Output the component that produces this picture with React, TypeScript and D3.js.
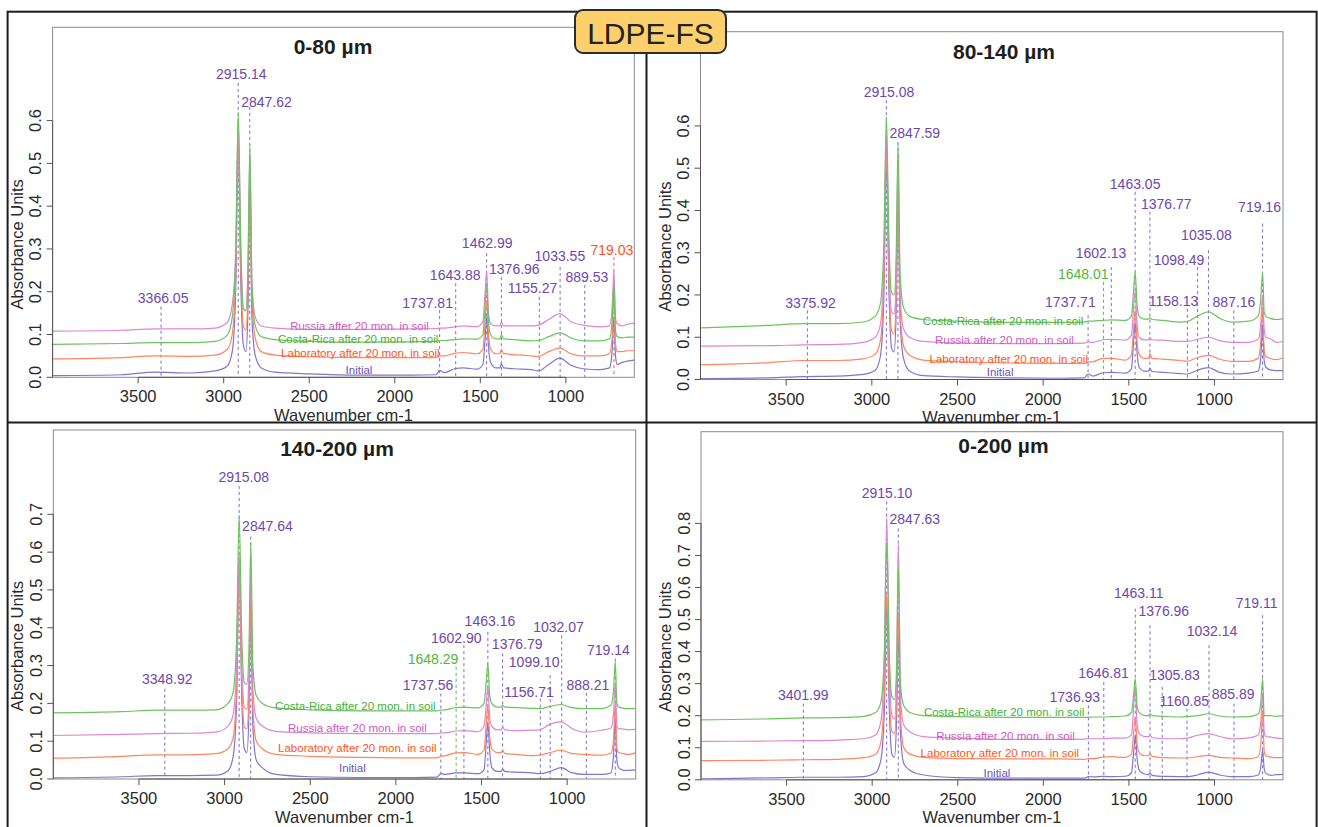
import React from 'react';
import * as d3 from 'd3';

// ---------- DATA ----------
const WAVENUMBERS = [
  4000, 3600, 3400, 3200, 3050, 2980, 2950, 2930, 2915, 2900,
  2885, 2870, 2858, 2847, 2835, 2815, 2780, 2700, 2500, 2200,
  1900, 1760, 1737, 1710, 1650, 1600, 1520, 1485, 1472, 1463,
  1452, 1440, 1410, 1385, 1377, 1365, 1300, 1200, 1160, 1100,
  1035, 970, 900, 800, 745, 730, 719, 710, 700, 670,
  640, 600,
];
const X_TICKS = [3500, 3000, 2500, 2000, 1500, 1000];
const SERIES_NAMES = {
  initial: 'Initial',
  lab: 'Laboratory after 20 mon. in soil',
  costa: 'Costa-Rica after 20 mon. in soil',
  russia: 'Russia after 20 mon. in soil',
};
const PANEL_TITLES = ['0-80 µm', '80-140 µm', '140-200 µm', '0-200 µm'];
const Y_TICKS = [
  [0, 0.1, 0.2, 0.3, 0.4, 0.5, 0.6],
  [0, 0.1, 0.2, 0.3, 0.4, 0.5, 0.6],
  [0, 0.1, 0.2, 0.3, 0.4, 0.5, 0.6, 0.7],
  [0, 0.1, 0.2, 0.3, 0.4, 0.5, 0.6, 0.7, 0.8],
];
const Y_MAX = [0.818, 0.823, 0.923, 1.086];

// Panel 1: 0-80 µm
const P1_INITIAL = [
  0.004, 0.006, 0.012, 0.010, 0.015, 0.026, 0.06, 0.2, 0.56, 0.22,
  0.075, 0.06, 0.16, 0.46, 0.14, 0.05, 0.022, 0.012, 0.008, 0.005,
  0.005, 0.006, 0.016, 0.011, 0.02, 0.022, 0.019, 0.03, 0.09, 0.142,
  0.07, 0.035, 0.022, 0.022, 0.032, 0.022, 0.02, 0.018, 0.015, 0.03,
  0.045, 0.028, 0.02, 0.018, 0.022, 0.06, 0.14, 0.05, 0.03, 0.035,
  0.038, 0.04,
];
const P1_LAB = [
  0.043, 0.046, 0.05, 0.049, 0.052, 0.065, 0.1, 0.24, 0.57, 0.25,
  0.12, 0.11, 0.21, 0.49, 0.18, 0.09, 0.06, 0.052, 0.048, 0.046,
  0.046, 0.046, 0.05, 0.05, 0.056, 0.058, 0.055, 0.066, 0.13, 0.18,
  0.1, 0.066, 0.055, 0.055, 0.065, 0.056, 0.053, 0.05, 0.049, 0.06,
  0.068, 0.055, 0.05, 0.05, 0.055, 0.09, 0.2, 0.08, 0.06, 0.06,
  0.062, 0.062,
];
const P1_COSTA = [
  0.077, 0.079, 0.081, 0.081, 0.084, 0.098, 0.14, 0.28, 0.62, 0.3,
  0.16, 0.155, 0.25, 0.545, 0.22, 0.12, 0.095, 0.088, 0.084, 0.082,
  0.083, 0.084, 0.086, 0.086, 0.088, 0.09, 0.089, 0.1, 0.17, 0.212,
  0.13, 0.1, 0.09, 0.09, 0.1, 0.09, 0.088, 0.085, 0.086, 0.095,
  0.104, 0.092, 0.085, 0.085, 0.09, 0.13, 0.22, 0.11, 0.095, 0.092,
  0.094, 0.094,
];
const P1_RUSSIA = [
  0.108, 0.11, 0.113, 0.113, 0.115, 0.128, 0.17, 0.29, 0.6, 0.3,
  0.16, 0.157, 0.26, 0.52, 0.22, 0.14, 0.12, 0.115, 0.112, 0.112,
  0.113, 0.114, 0.115, 0.115, 0.118, 0.12, 0.118, 0.13, 0.2, 0.25,
  0.15, 0.125, 0.12, 0.12, 0.13, 0.12, 0.12, 0.12, 0.122, 0.135,
  0.149, 0.13, 0.122, 0.118, 0.12, 0.16, 0.25, 0.14, 0.125, 0.12,
  0.124, 0.126,
];

// Panel 2: 80-140 µm
const P2_INITIAL = [
  0.002, 0.004, 0.007, 0.008, 0.012, 0.022, 0.055, 0.19, 0.52, 0.21,
  0.075, 0.065, 0.16, 0.44, 0.14, 0.05, 0.02, 0.009, 0.006, 0.004,
  0.003, 0.004, 0.013, 0.008, 0.016, 0.017, 0.015, 0.025, 0.09, 0.136,
  0.065, 0.029, 0.02, 0.02, 0.027, 0.019, 0.017, 0.014, 0.013, 0.022,
  0.028, 0.017, 0.013, 0.015, 0.02, 0.05, 0.13, 0.045, 0.029, 0.022,
  0.021, 0.021,
];
const P2_LAB = [
  0.035, 0.04, 0.045, 0.045, 0.049, 0.06, 0.092, 0.23, 0.55, 0.24,
  0.115, 0.108, 0.2, 0.47, 0.17, 0.08, 0.058, 0.046, 0.042, 0.039,
  0.038, 0.038, 0.041, 0.042, 0.05, 0.05, 0.046, 0.058, 0.12, 0.165,
  0.09, 0.06, 0.05, 0.05, 0.061, 0.05, 0.048, 0.045, 0.043, 0.052,
  0.057, 0.048, 0.043, 0.043, 0.05, 0.09, 0.167, 0.07, 0.055, 0.049,
  0.047, 0.051,
];
const P2_COSTA = [
  0.122, 0.128, 0.132, 0.132, 0.136, 0.15, 0.18, 0.32, 0.622, 0.33,
  0.205, 0.2, 0.29, 0.558, 0.25, 0.17, 0.15, 0.142, 0.138, 0.135,
  0.135, 0.136, 0.138, 0.138, 0.14, 0.141, 0.14, 0.15, 0.21, 0.254,
  0.18, 0.15, 0.143, 0.143, 0.146, 0.142, 0.14, 0.136, 0.137, 0.15,
  0.16, 0.145, 0.136, 0.138, 0.15, 0.19, 0.254, 0.16, 0.15, 0.144,
  0.142, 0.144,
];
const P2_RUSSIA = [
  0.079, 0.08, 0.082, 0.083, 0.088, 0.1, 0.13, 0.27, 0.58, 0.28,
  0.16, 0.155, 0.24, 0.52, 0.2, 0.12, 0.1, 0.09, 0.086, 0.085,
  0.085, 0.086, 0.089, 0.088, 0.094, 0.095, 0.093, 0.105, 0.17, 0.21,
  0.13, 0.1, 0.094, 0.094, 0.1, 0.094, 0.093, 0.09, 0.09, 0.095,
  0.1, 0.092, 0.088, 0.088, 0.095, 0.13, 0.2, 0.12, 0.1, 0.096,
  0.088, 0.09,
];

// Panel 3: 140-200 µm
const P3_INITIAL = [
  0.003, 0.006, 0.009, 0.009, 0.01, 0.022, 0.06, 0.2, 0.57, 0.22,
  0.08, 0.07, 0.17, 0.46, 0.14, 0.05, 0.03, 0.012, 0.006, 0.004,
  0.004, 0.005, 0.014, 0.012, 0.016, 0.016, 0.014, 0.025, 0.1, 0.15,
  0.07, 0.03, 0.02, 0.02, 0.027, 0.02, 0.018, 0.016, 0.014, 0.02,
  0.03, 0.016, 0.012, 0.012, 0.016, 0.06, 0.16, 0.05, 0.03, 0.023,
  0.023, 0.024,
];
const P3_LAB = [
  0.055, 0.06, 0.064, 0.064, 0.067, 0.08, 0.11, 0.25, 0.55, 0.26,
  0.138, 0.133, 0.22, 0.48, 0.19, 0.1, 0.08, 0.065, 0.06, 0.057,
  0.056, 0.056, 0.06, 0.062, 0.069, 0.07, 0.065, 0.078, 0.15, 0.195,
  0.11, 0.08, 0.07, 0.07, 0.076, 0.068, 0.065, 0.062, 0.063, 0.07,
  0.076, 0.067, 0.065, 0.063, 0.068, 0.1, 0.2, 0.08, 0.07, 0.067,
  0.065, 0.069,
];
const P3_COSTA = [
  0.175, 0.178, 0.182, 0.182, 0.183, 0.2, 0.23, 0.37, 0.698, 0.38,
  0.255, 0.25, 0.34, 0.628, 0.3, 0.22, 0.2, 0.188, 0.183, 0.18,
  0.18, 0.18, 0.182, 0.183, 0.189, 0.19, 0.188, 0.2, 0.26, 0.305,
  0.22, 0.2, 0.19, 0.19, 0.195, 0.19, 0.189, 0.187, 0.186, 0.192,
  0.197, 0.188, 0.186, 0.186, 0.195, 0.23, 0.31, 0.2, 0.19, 0.187,
  0.186, 0.186,
];
const P3_RUSSIA = [
  0.115, 0.118, 0.12, 0.121, 0.124, 0.14, 0.17, 0.3, 0.6, 0.31,
  0.19, 0.185, 0.27, 0.55, 0.24, 0.16, 0.14, 0.126, 0.122, 0.12,
  0.12, 0.12, 0.122, 0.122, 0.127, 0.128, 0.125, 0.14, 0.2, 0.248,
  0.16, 0.14, 0.13, 0.13, 0.138, 0.13, 0.128, 0.129, 0.13, 0.145,
  0.151, 0.133, 0.124, 0.129, 0.135, 0.17, 0.252, 0.14, 0.133, 0.132,
  0.13, 0.131,
];

// Panel 4: 0-200 µm
const P4_INITIAL = [
  0.003, 0.006, 0.008, 0.008, 0.01, 0.022, 0.06, 0.2, 0.55, 0.22,
  0.08, 0.07, 0.18, 0.477, 0.15, 0.05, 0.03, 0.015, 0.007, 0.005,
  0.005, 0.005, 0.01, 0.009, 0.0104, 0.01, 0.011, 0.022, 0.09, 0.139,
  0.065, 0.03, 0.018, 0.016, 0.021, 0.014, 0.0104, 0.01, 0.01, 0.015,
  0.024, 0.015, 0.01, 0.01, 0.015, 0.04, 0.092, 0.035, 0.02, 0.014,
  0.016, 0.017,
];
const P4_LAB = [
  0.06, 0.061, 0.0625, 0.064, 0.069, 0.08, 0.115, 0.26, 0.58, 0.27,
  0.15, 0.145, 0.24, 0.513, 0.2, 0.1, 0.08, 0.07, 0.066, 0.065,
  0.065, 0.064, 0.066, 0.066, 0.071, 0.072, 0.07, 0.08, 0.15, 0.196,
  0.11, 0.085, 0.075, 0.075, 0.081, 0.073, 0.069, 0.068, 0.068, 0.072,
  0.076, 0.07, 0.068, 0.066, 0.072, 0.11, 0.217, 0.09, 0.075, 0.071,
  0.069, 0.069,
];
const P4_COSTA = [
  0.187, 0.19, 0.193, 0.194, 0.198, 0.21, 0.24, 0.38, 0.74, 0.39,
  0.26, 0.25, 0.34, 0.665, 0.3, 0.23, 0.21, 0.2, 0.197, 0.195,
  0.195, 0.195, 0.195, 0.196, 0.196, 0.197, 0.199, 0.21, 0.27, 0.316,
  0.23, 0.21, 0.2, 0.2, 0.206, 0.2, 0.198, 0.196, 0.197, 0.2,
  0.206, 0.199, 0.196, 0.197, 0.205, 0.24, 0.316, 0.2, 0.2, 0.2,
  0.198, 0.2,
];
const P4_RUSSIA = [
  0.12, 0.121, 0.122, 0.124, 0.128, 0.14, 0.18, 0.35, 0.82, 0.36,
  0.2, 0.19, 0.3, 0.737, 0.26, 0.17, 0.15, 0.135, 0.13, 0.126,
  0.126, 0.127, 0.128, 0.128, 0.128, 0.13, 0.13, 0.14, 0.23, 0.29,
  0.17, 0.145, 0.135, 0.135, 0.139, 0.132, 0.128, 0.128, 0.13, 0.139,
  0.144, 0.135, 0.128, 0.131, 0.14, 0.18, 0.27, 0.15, 0.135, 0.133,
  0.13, 0.128,
];

// Peak annotations: [wavenumber, label, label centre wavenumber, label baseline absorbance, line top absorbance, kind]
const P1_PEAKS = [
  [2915.14, '2915.14', 2897, 0.697, 0.688, 'p'],
  [2847.62, '2847.62', 2750, 0.632, 0.632, 'p'],
  [3366.05, '3366.05', 3354, 0.174, 0.165, 'p'],
  [1737.81, '1737.81', 1808, 0.162, 0.157, 'p'],
  [1643.88, '1643.88', 1647, 0.227, 0.22, 'p'],
  [1462.99, '1462.99', 1460, 0.302, 0.29, 'p'],
  [1376.96, '1376.96', 1301, 0.241, 0.234, 'p'],
  [1155.27, '1155.27', 1195, 0.197, 0.188, 'p'],
  [1033.55, '1033.55', 1035, 0.272, 0.258, 'p'],
  [889.53, '889.53', 877, 0.222, 0.216, 'p'],
  [719.03, '719.03', 731, 0.286, 0.281, 'r'],
];
const P2_PEAKS = [
  [2915.08, '2915.08', 2900, 0.669, 0.661, 'p'],
  [2847.59, '2847.59', 2749, 0.572, 0.562, 'p'],
  [3375.92, '3375.92', 3358, 0.169, 0.1635, 'p'],
  [1737.71, '1737.71', 1841, 0.171, 0.152, 'p'],
  [1648.01, '1648.01', 1766, 0.237, 0.231, 'g'],
  [1602.13, '1602.13', 1662, 0.288, 0.266, 'p'],
  [1463.05, '1463.05', 1463, 0.45, 0.444, 'p'],
  [1376.77, '1376.77', 1281, 0.404, 0.397, 'p'],
  [1158.13, '1158.13', 1239, 0.175, 0.1675, 'p'],
  [1098.49, '1098.49', 1207, 0.272, 0.266, 'p'],
  [1035.08, '1035.08', 1047, 0.331, 0.306, 'p'],
  [887.16, '887.16', 886, 0.171, 0.1635, 'p'],
  [719.16, '719.16', 737, 0.396, 0.369, 'p'],
];
const P3_PEAKS = [
  [2915.08, '2915.08', 2888, 0.786, 0.775, 'p'],
  [2847.64, '2847.64', 2750, 0.656, 0.641, 'p'],
  [3348.92, '3348.92', 3335, 0.25, 0.239, 'p'],
  [1737.56, '1737.56', 1812, 0.235, 0.226, 'p'],
  [1648.29, '1648.29', 1783, 0.303, 0.2966, 'g'],
  [1602.9, '1602.90', 1648, 0.36, 0.354, 'p'],
  [1463.16, '1463.16', 1451, 0.404, 0.389, 'p'],
  [1376.79, '1376.79', 1292, 0.345, 0.332, 'p'],
  [1099.1, '1099.10', 1193, 0.297, 0.2745, 'p'],
  [1156.71, '1156.71', 1223, 0.217, 0.2127, 'p'],
  [1032.07, '1032.07', 1051, 0.388, 0.38, 'p'],
  [888.21, '888.21', 879, 0.235, 0.2277, 'p'],
  [719.14, '719.14', 759, 0.327, 0.3186, 'p'],
];
const P4_PEAKS = [
  [2915.1, '2915.10', 2913, 0.88, 0.868, 'p'],
  [2847.63, '2847.63', 2751, 0.798, 0.784, 'p'],
  [3401.99, '3401.99', 3403, 0.248, 0.2375, 'p'],
  [1736.93, '1736.93', 1816, 0.243, 0.232, 'p'],
  [1646.81, '1646.81', 1649, 0.319, 0.305, 'p'],
  [1463.11, '1463.11', 1443, 0.567, 0.534, 'p'],
  [1376.96, '1376.96', 1296, 0.511, 0.482, 'p'],
  [1305.83, '1305.83', 1234, 0.312, 0.29, 'p'],
  [1160.85, '1160.85', 1177, 0.229, 0.222, 'p'],
  [1032.14, '1032.14', 1015, 0.448, 0.42, 'p'],
  [885.89, '885.89', 891, 0.251, 0.2375, 'p'],
  [719.11, '719.11', 754, 0.536, 0.5135, 'p'],
];

// Series labels: [series key, centre wavenumber, baseline absorbance]
const P1_LABELS = [['russia', 2206, 0.1106], ['costa', 2214, 0.0794], ['lab', 2201, 0.0467], ['initial', 2209, 0.0078]];
const P2_LABELS = [['costa', 2234, 0.1288], ['russia', 2226, 0.0837], ['lab', 2201, 0.0387], ['initial', 2251, 0.0071]];
const P3_LABELS = [['costa', 2237, 0.1827], ['russia', 2225, 0.1253], ['lab', 2225, 0.0706], ['initial', 2254, 0.0177]];
const P4_LABELS = [['costa', 2229, 0.2], ['russia', 2221, 0.125], ['lab', 2254, 0.0698], ['initial', 2271, 0.0094]];

// ---------- LAYOUT & STYLE ----------
const LAYOUT = [
  { left: 52.6, right: 634.3, top: 27.3, bottom: 377.3, titleX: 333, titleY: 53.5 },
  { left: 700.5, right: 1283, top: 31.7, bottom: 379.5, titleX: 1004, titleY: 59 },
  { left: 53.3, right: 635.7, top: 430, bottom: 779, titleX: 337, titleY: 456 },
  { left: 701, right: 1283, top: 431.7, bottom: 779.8, titleX: 1003.5, titleY: 453.3 },
];
const LINE_COLORS = { initial: '#8673CF', lab: '#FF8660', costa: '#6CC45C', russia: '#DE86D4' };
const LABEL_COLORS = { initial: '#6C53BD', lab: '#FF5424', costa: '#45B035', russia: '#CF58C0' };
const PEAK_COLORS = { p: '#6E48AE', g: '#4DB83B', r: '#FF4F1F' };
const DASH_COLORS = { p: '#7D6AD0', g: '#56BE44', r: '#FF5A2A' };
const FONT = "'Liberation Sans', Arial, Helvetica, sans-serif";
const DRAW_ORDER = ['initial', 'lab', 'russia', 'costa'];

const PANEL_SERIES = [
  { initial: P1_INITIAL, lab: P1_LAB, costa: P1_COSTA, russia: P1_RUSSIA },
  { initial: P2_INITIAL, lab: P2_LAB, costa: P2_COSTA, russia: P2_RUSSIA },
  { initial: P3_INITIAL, lab: P3_LAB, costa: P3_COSTA, russia: P3_RUSSIA },
  { initial: P4_INITIAL, lab: P4_LAB, costa: P4_COSTA, russia: P4_RUSSIA },
];
const PANEL_PEAKS = [P1_PEAKS, P2_PEAKS, P3_PEAKS, P4_PEAKS];
const PANEL_LABELS = [P1_LABELS, P2_LABELS, P3_LABELS, P4_LABELS];

function Panel({ idx }: { idx: number }) {
  const L = LAYOUT[idx];
  const x = d3.scaleLinear().domain([4000, 600]).range([L.left, L.right]);
  const y = d3.scaleLinear().domain([0, Y_MAX[idx]]).range([L.bottom, L.top]);
  const line = d3
    .line<[number, number]>()
    .x((d) => x(d[0]))
    .y((d) => y(d[1]))
    .curve(d3.curveMonotoneX);
  const series = PANEL_SERIES[idx];
  const clipId = `clip${idx}`;
  const fmt = d3.format('.1f');
  const yt = Y_TICKS[idx];
  return (
    <g>
      <defs>
        <clipPath id={clipId}>
          <rect x={L.left} y={L.top} width={L.right - L.left} height={L.bottom - L.top} />
        </clipPath>
      </defs>
      {PANEL_PEAKS[idx].map((p: any, i: number) => (
        <line
          key={'d' + i}
          x1={x(p[0])}
          x2={x(p[0])}
          y1={y(p[4])}
          y2={y(0)}
          stroke={DASH_COLORS[p[5]]}
          strokeWidth={1}
          strokeDasharray="3,3"
        />
      ))}
      <g clipPath={`url(#${clipId})`}>
        {DRAW_ORDER.map((k) => (
          <path
            key={k}
            d={line(WAVENUMBERS.map((w, i) => [w, series[k][i]]) as [number, number][]) || ''}
            fill="none"
            stroke={LINE_COLORS[k]}
            strokeWidth={1.2}
            strokeLinejoin="round"
          />
        ))}
      </g>
      <rect
        x={L.left}
        y={L.top}
        width={L.right - L.left}
        height={L.bottom - L.top}
        fill="none"
        stroke="#8a8a8a"
        strokeWidth={1}
      />
      <line x1={x(X_TICKS[0])} x2={x(X_TICKS[X_TICKS.length - 1])} y1={L.bottom} y2={L.bottom} stroke="#555" strokeWidth={1} />
      {X_TICKS.map((t) => (
        <g key={'x' + t}>
          <line x1={x(t)} x2={x(t)} y1={L.bottom} y2={L.bottom + 6} stroke="#555" strokeWidth={1} />
          <text x={x(t)} y={L.bottom + 25} textAnchor="middle" fontSize={16.5} fill="#2a2a2a" fontFamily={FONT}>
            {t}
          </text>
        </g>
      ))}
      <text x={(L.left + L.right) / 2} y={L.bottom + 43.5} textAnchor="middle" fontSize={16.5} fill="#2a2a2a" fontFamily={FONT}>
        Wavenumber cm-1
      </text>
      <line x1={L.left} x2={L.left} y1={y(0)} y2={y(yt[yt.length - 1])} stroke="#555" strokeWidth={1} />
      {yt.map((t) => (
        <g key={'y' + t}>
          <line x1={L.left - 6} x2={L.left} y1={y(t)} y2={y(t)} stroke="#555" strokeWidth={1} />
          <text
            transform={`translate(${L.left - 11.5},${y(t)}) rotate(-90)`}
            textAnchor="middle"
            fontSize={16.5}
            fill="#2a2a2a"
            fontFamily={FONT}
          >
            {fmt(t)}
          </text>
        </g>
      ))}
      <text
        transform={`translate(${L.left - 30},${L.bottom - 133}) rotate(-90)`}
        textAnchor="middle"
        fontSize={16.5}
        fill="#2a2a2a"
        fontFamily={FONT}
      >
        Absorbance Units
      </text>
      <text x={L.titleX} y={L.titleY} textAnchor="middle" fontSize={21} fontWeight="bold" fill="#1e1e1e" fontFamily={FONT}>
        {PANEL_TITLES[idx]}
      </text>
      {PANEL_PEAKS[idx].map((p: any, i: number) => (
        <text key={'t' + i} x={x(p[2])} y={y(p[3])} textAnchor="middle" fontSize={14} fill={PEAK_COLORS[p[5]]} fontFamily={FONT}>
          {p[1]}
        </text>
      ))}
      {PANEL_LABELS[idx].map((s: any, i: number) => (
        <text key={'s' + i} x={x(s[1])} y={y(s[2])} textAnchor="middle" fontSize={11.5} fill={LABEL_COLORS[s[0]]} fontFamily={FONT}>
          {SERIES_NAMES[s[0]]}
        </text>
      ))}
    </g>
  );
}

export default function App() {
  return (
    <svg
      width={1318}
      height={827}
      style={{ position: 'absolute', left: 0, top: 0, background: '#fff', display: 'block' }}
    >
      <rect x={0} y={0} width={1318} height={827} fill="#fff" />
      {[0, 1, 2, 3].map((i) => (
        <Panel key={i} idx={i} />
      ))}
      <rect x={7.6} y={11.7} width={1309} height={830} fill="none" stroke="#1c1c1c" strokeWidth={2} />
      <line x1={7.6} x2={1316.6} y1={422.5} y2={422.5} stroke="#1c1c1c" strokeWidth={2} />
      <line x1={646.5} x2={646.5} y1={11.7} y2={827} stroke="#1c1c1c" strokeWidth={2} />
      <rect x={575} y={10} width={151} height={43} rx={8} ry={8} fill="#FDD06C" stroke="#2b2b2b" strokeWidth={2} />
      <text x={650.5} y={43.5} textAnchor="middle" fontSize={30} fill="#222" fontFamily={FONT}>
        LDPE-FS
      </text>
    </svg>
  );
}
